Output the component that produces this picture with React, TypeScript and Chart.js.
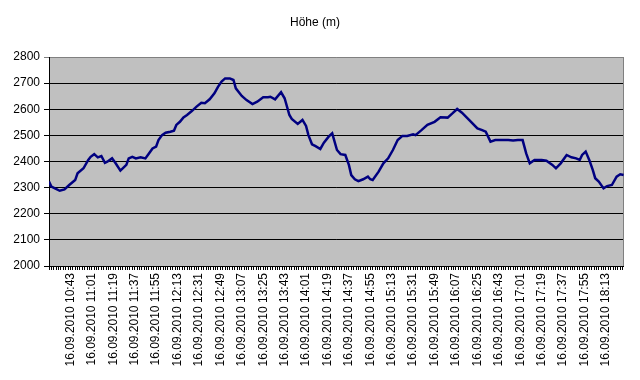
import React, { useEffect, useRef } from 'react';
import { Chart, registerables } from 'chart.js';

Chart.register(...registerables);

const TITLE = 'Höhe (m)';
const DATE = '16.09.2010';
const START_TIME = '10:25';
const END_TIME = '18:28';
const FIRST_LABEL_TIME = '10:43';
const LABEL_EVERY_MIN = 18;
const TICK_MARK_EVERY_MIN = 2;
const Y_MIN = 2000;
const Y_MAX = 2800;
const Y_STEP = 100;

const times = [
  '10:25', '10:27', '10:30', '10:34', '10:38', '10:42', '10:47', '10:49', '10:54', '10:58',
  '11:00', '11:03', '11:06', '11:09', '11:12', '11:14', '11:18', '11:21', '11:25', '11:30',
  '11:32', '11:35', '11:38', '11:42', '11:46', '11:49', '11:52', '11:55', '11:57', '12:00',
  '12:03', '12:07', '12:10', '12:12', '12:15', '12:18', '12:21', '12:25', '12:29', '12:33',
  '12:36', '12:40', '12:44', '12:47', '12:50', '12:53', '12:57', '13:00', '13:02', '13:07',
  '13:11', '13:16', '13:20', '13:25', '13:29', '13:31', '13:35', '13:40', '13:43', '13:47',
  '13:49', '13:54', '13:58', '14:01', '14:03', '14:06', '14:09', '14:13', '14:16', '14:20',
  '14:23', '14:27', '14:30', '14:34', '14:37', '14:39', '14:42', '14:45', '14:49', '14:53',
  '14:55', '14:57', '15:02', '15:06', '15:10', '15:14', '15:18', '15:22', '15:26', '15:31',
  '15:33', '15:38', '15:43', '15:49', '15:54', '16:00', '16:04', '16:08', '16:12', '16:18',
  '16:25', '16:29', '16:32', '16:36', '16:40', '16:45', '16:51', '16:55', '16:59', '17:03',
  '17:06', '17:09', '17:13', '17:19', '17:23', '17:26', '17:28', '17:31', '17:35', '17:40',
  '17:44', '17:48', '17:51', '17:53', '17:56', '17:59', '18:02', '18:04', '18:07', '18:11',
  '18:14', '18:18', '18:22', '18:25', '18:28',
];

const heights = [
  2323, 2304, 2297, 2288, 2293, 2310, 2329, 2355, 2374, 2406,
  2418, 2428, 2416, 2421, 2395, 2399, 2412, 2393, 2365, 2387,
  2412, 2418, 2412, 2416, 2412, 2431, 2450, 2457, 2482, 2501,
  2510, 2514, 2518, 2540, 2552, 2569, 2578, 2593, 2610, 2625,
  2623, 2638, 2661, 2686, 2706, 2718, 2718, 2712, 2680, 2651,
  2635, 2620, 2629, 2646, 2646, 2648, 2638, 2665, 2642, 2578,
  2563, 2544, 2559, 2536, 2501, 2466, 2459, 2448, 2472, 2495,
  2508, 2444, 2428, 2425, 2387, 2348, 2332, 2325, 2332, 2342,
  2332, 2329, 2361, 2393, 2412, 2444, 2482, 2498, 2498, 2504,
  2501, 2520, 2540, 2552, 2569, 2568, 2584, 2601, 2587, 2559,
  2527, 2520, 2514, 2476, 2482, 2482, 2482, 2480, 2482, 2482,
  2431, 2393, 2406, 2406, 2403, 2393, 2387, 2374, 2393, 2425,
  2416, 2412, 2406, 2425, 2438, 2406, 2367, 2336, 2323, 2297,
  2306, 2310, 2342, 2351, 2348,
];

const FONT_FAMILY = '"Liberation Sans", Arial, sans-serif';

function toMin(t: string): number {
  const [h, m] = t.split(':').map(Number);
  return h * 60 + m;
}
function fmt(mins: number): string {
  const h = Math.floor(mins / 60);
  const m = mins % 60;
  return `${String(h).padStart(2, '0')}:${String(m).padStart(2, '0')}`;
}

const START = toMin(START_TIME);
const END_OFF = toMin(END_TIME) - START;
const FIRST_LABEL_OFF = toMin(FIRST_LABEL_TIME) - START;

const plotBg = {
  id: 'plotBg',
  beforeDraw(chart: any) {
    const { ctx, chartArea: a } = chart;
    ctx.save();
    ctx.fillStyle = '#c0c0c0';
    ctx.fillRect(a.left, a.top, a.right - a.left, a.bottom - a.top);
    ctx.restore();
  },
  beforeDatasetsDraw(chart: any) {
    const { ctx, chartArea: a } = chart;
    ctx.save();
    ctx.strokeStyle = '#808080';
    ctx.lineWidth = 1;
    ctx.beginPath();
    ctx.moveTo(Math.round(a.right) - 0.5, a.top);
    ctx.lineTo(Math.round(a.right) - 0.5, a.bottom);
    ctx.stroke();
    ctx.restore();
  },
};

export default function App() {
  const ref = useRef<HTMLCanvasElement | null>(null);

  useEffect(() => {
    if (!ref.current) return;
    const points = times.map((t, i) => ({ x: toMin(t) - START, y: heights[i] }));
    const chart = new Chart(ref.current, {
      type: 'line',
      data: {
        datasets: [
          {
            data: points,
            borderColor: '#000080',
            borderWidth: 2.5,
            pointRadius: 0,
            tension: 0,
            fill: false,
          },
        ],
      },
      options: {
        animation: false,
        responsive: false,
        devicePixelRatio: 1,
        layout: { padding: { left: 0, right: 10, top: 0, bottom: 0 } },
        plugins: {
          legend: { display: false },
          tooltip: { enabled: false },
          title: {
            display: true,
            text: TITLE,
            color: '#000',
            font: { family: FONT_FAMILY, size: 12, weight: 'normal' },
            padding: { top: 15, bottom: 27.6 },
          },
        },
        scales: {
          x: {
            type: 'linear',
            min: 0,
            max: END_OFF,
            afterBuildTicks(scale: any) {
              const ticks = [];
              for (let v = 0; v <= END_OFF; v += TICK_MARK_EVERY_MIN) ticks.push({ value: v });
              scale.ticks = ticks;
            },
            afterFit(scale: any) {
              scale.height = 114;
            },
            ticks: {
              autoSkip: false,
              maxRotation: 90,
              minRotation: 90,
              padding: 3,
              color: '#000',
              font: { family: FONT_FAMILY, size: 12 },
              callback(value: any) {
                const v = Number(value);
                const off = v - FIRST_LABEL_OFF;
                if (off >= 0 && off % LABEL_EVERY_MIN === 0) return `${DATE} ${fmt(START + v)}`;
                return '';
              },
            },
            grid: { drawOnChartArea: false, drawTicks: true, tickLength: 4, color: '#000' },
            border: { display: true, color: '#000' },
          },
          y: {
            min: Y_MIN,
            max: Y_MAX,
            afterFit(scale: any) {
              scale.width = 49;
            },
            ticks: {
              stepSize: Y_STEP,
              padding: 4,
              color: '#000',
              font: { family: FONT_FAMILY, size: 12 },
              callback: (value: any) => String(value),
            },
            grid: {
              tickLength: 5,
              color: (ctx: any) => (ctx.tick && ctx.tick.value === Y_MAX ? '#808080' : '#000'),
            },
            border: { display: true, color: '#000' },
          },
        },
      },
      plugins: [plotBg],
    });
    return () => chart.destroy();
  }, []);

  return (
    <div style={{ position: 'absolute', left: 0, top: 0, width: 640, height: 380, background: '#fff' }}>
      <canvas ref={ref} width={640} height={380} style={{ width: 640, height: 380, display: 'block' }} />
    </div>
  );
}
